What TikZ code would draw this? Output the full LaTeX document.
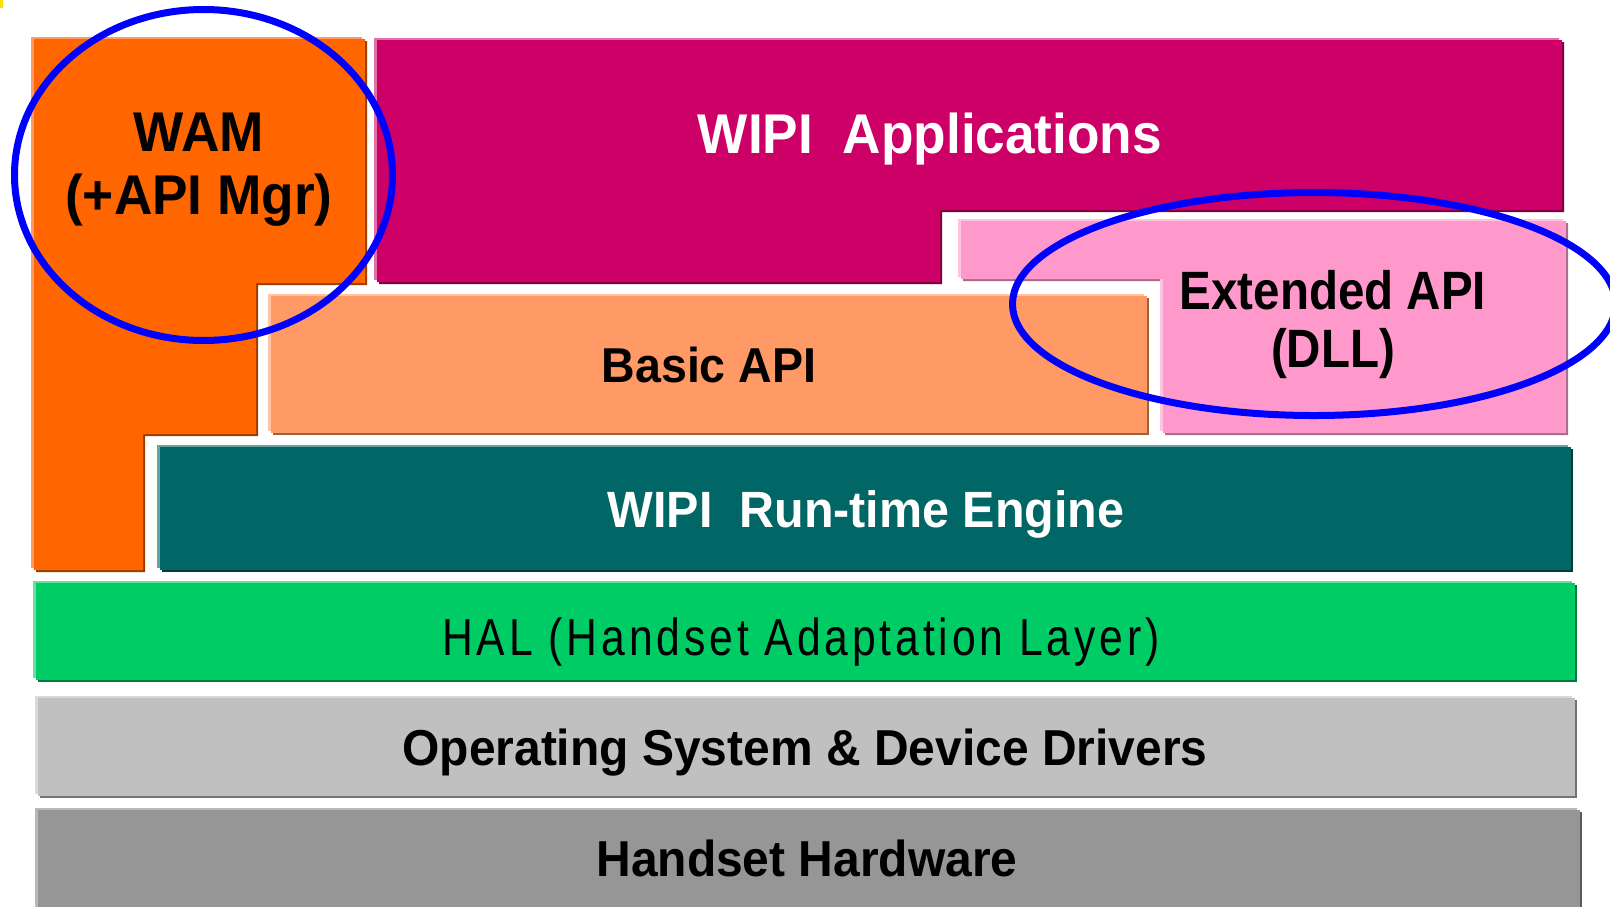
\documentclass[tikz,border=0pt]{standalone}
\usepackage{fontspec}
\setmainfont{Liberation Sans}
\newfontfamily\wbA[FakeStretch=0.95]{Liberation Sans Bold}
\newfontfamily\wbExt[FakeStretch=0.88]{Liberation Sans Bold}
\newfontfamily\halfont[FakeStretch=0.82,LetterSpace=7.5]{Liberation Sans}
\definecolor{orgM}{HTML}{FF6600}\definecolor{orgL}{HTML}{FF9966}\definecolor{orgD}{HTML}{993D00}
\definecolor{magM}{HTML}{CC0066}\definecolor{magL}{HTML}{E070A8}\definecolor{magD}{HTML}{7A003D}
\definecolor{pnkM}{HTML}{FF99CC}\definecolor{pnkL}{HTML}{FFC4E2}\definecolor{pnkD}{HTML}{A06E8A}
\definecolor{basM}{HTML}{FF9966}\definecolor{basL}{HTML}{FFC4A6}\definecolor{basD}{HTML}{A0603A}
\definecolor{tealM}{HTML}{006666}\definecolor{tealL}{HTML}{66A3A3}\definecolor{tealD}{HTML}{003D3D}
\definecolor{grnM}{HTML}{00CC66}\definecolor{grnL}{HTML}{66E0A3}\definecolor{grnD}{HTML}{007A3D}
\definecolor{osM}{HTML}{C0C0C0}\definecolor{osL}{HTML}{D9D9D9}\definecolor{osD}{HTML}{737373}
\definecolor{hwM}{HTML}{969696}\definecolor{hwL}{HTML}{B8B8B8}\definecolor{hwD}{HTML}{5A5A5A}
\definecolor{ringblue}{HTML}{0000FF}
\newcommand\bevelshape[4]{%
  \fill[#3, shift={(2,2)}] #4;
  \fill[#2, shift={(-3,-2)}] #4;
  \fill[#1] #4;
}
\begin{document}
\begin{tikzpicture}[x=1pt,y=-1pt,
  lbl/.style={inner sep=0pt, anchor=base},
  ring/.style={draw=ringblue, line width=7pt}]
\useasboundingbox (0,0) rectangle (1610,906);
\clip (0,0) rectangle (1610,906);
% tiny yellow mark in the corner
\fill[yellow!80!orange] (0,0) rectangle (2.5,8);
% WAM
\bevelshape{orgM}{orgL}{orgD}{(34,39) -- (365,39) -- (365,283) -- (256,283) -- (256,434) -- (143,434) -- (143,570) -- (34,570) -- cycle}
% WIPI Applications
\bevelshape{magM}{magL}{magD}{(377,40) -- (1562,40) -- (1562,210) -- (940,210) -- (940,282) -- (377,282) -- cycle}
% Extended API
\bevelshape{pnkM}{pnkL}{pnkD}{(961,221) -- (1566,221) -- (1566,433) -- (1163,433) -- (1163,279) -- (961,279) -- cycle}
% Basic API
\bevelshape{basM}{basL}{basD}{(271,296) rectangle (1147,433)}
% Run-time engine
\bevelshape{tealM}{tealL}{tealD}{(160,447) rectangle (1571,570)}
% HAL
\bevelshape{grnM}{grnL}{grnD}{(36,583) rectangle (1575,680)}
% OS
\bevelshape{osM}{osL}{osD}{(38,698) rectangle (1575,796)}
% Hardware
\bevelshape{hwM}{hwL}{hwD}{(38,810) rectangle (1580,920)}
% texts
\node[lbl] (wam1) at (199,151) {\wbA\fontsize{56}{60}\selectfont WAM};
\node[lbl] (wam2) at (199,214) {\wbA\fontsize{56}{60}\selectfont (+API Mgr)};
\node[lbl, text=white] (apps) at (930,153) {\wbA\fontsize{56}{60}\selectfont WIPI\ \ Applications};
\node[lbl] (basic) at (709,382) {\wbA\fontsize{49}{53}\selectfont Basic API};
\node[lbl] (ext1) at (1333,309) {\wbExt\fontsize{54}{58}\selectfont Extended API};
\node[lbl] (ext2) at (1333,367) {\wbExt\fontsize{54}{58}\selectfont (DLL)};
\node[lbl, text=white] (rte) at (866,527) {\wbA\fontsize{51}{55}\selectfont WIPI\ \ Run-time Engine};
\node[lbl] (hal) at (801,655) {\halfont\fontsize{52}{56}\selectfont HAL (Handset Adaptation Layer)};
\node[lbl] (os) at (805,765) {\wbA\fontsize{50.5}{54}\selectfont Operating System \& Device Drivers};
\node[lbl] (hw) at (807,876) {\wbA\fontsize{50.5}{54}\selectfont Handset Hardware};
% blue rings
\draw[ring] (203.5,175) ellipse [x radius=189, y radius=165.5];
\draw[ring] (1314,304) ellipse [x radius=301.5, y radius=111.5];
\end{tikzpicture}
\end{document}
